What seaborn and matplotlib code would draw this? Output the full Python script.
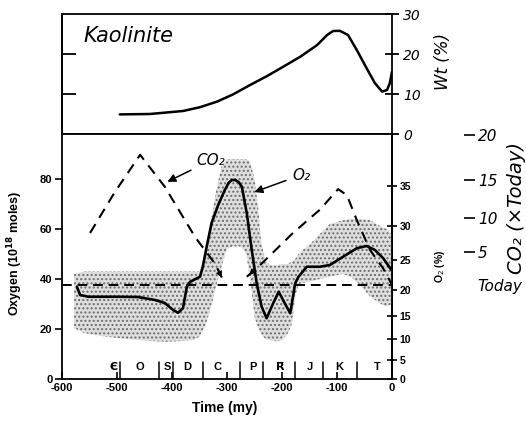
import numpy as np
import pandas as pd
import seaborn as sns
import matplotlib
matplotlib.use("Agg")
import matplotlib.pyplot as plt

# kaolinite (wt %) through time
kao_time = [-495, -440, -380, -349, -318, -289, -258, -227, -198, -167, -136, -118, -107, -95,
            -80, -64, -46, -31, -18, -9, -4, 0]
kao_wt = [4.9, 5.0, 5.75, 6.7, 8.1, 9.9, 12.25, 14.5, 16.8, 19.3, 22.25, 24.75, 25.75, 25.8,
          24.75, 21.0, 16.4, 12.7, 10.6, 11.0, 12.7, 15.6]

# atmospheric oxygen (10^18 moles)
o2_time = [-573, -567, -552, -500, -462, -431, -413, -398, -389, -380, -373, -367, -349, -344, -337,
           -328, -316, -304, -297, -291, -285, -279, -273, -264, -255, -246, -237, -228, -216, -206,
           -195, -185, -176, -170, -155, -131, -113, -89, -64, -46, -31, -16, -1]
o2_val = [36.9, 33.6, 32.9, 32.9, 32.8, 31.6, 30.4, 27.6, 26.5, 28.4, 36.9, 38.9, 40.9, 44.9, 52.9,
          62.4, 69.6, 75.6, 78.5, 79.6, 79.6, 78.8, 76.9, 66.3, 51.6, 38.3, 28.9, 24.3, 30.3, 34.9,
          30.3, 26.3, 38.3, 40.9, 44.9, 44.9, 45.6, 48.9, 52.3, 53.2, 51.6, 48.3, 43.6]

# uncertainty envelope of oxygen
band_time = [-578, -560, -520, -480, -440, -410, -380, -360, -350, -340, -330, -320, -310, -300, -290,
             -275, -265, -258, -250, -243, -238, -230, -220, -210, -200, -190, -182, -176, -170, -160,
             -149, -131, -113, -90, -76, -60, -40, -20, -10, 0]
band_low = [20.4, 18.4, 16.9, 16, 15.2, 14.9, 15.2, 15.6, 17, 21, 28, 37, 45, 52, 53,
            53, 50, 40, 25, 20, 18, 16, 15.5, 15, 15.5, 18, 22, 33, 38, 38.5,
            39, 40, 41, 42, 41, 38, 33, 30, 29, 30]
band_high = [42, 43, 43, 43, 43, 43, 43, 43, 43, 50, 62, 75, 85, 88, 88,
             88, 88, 87, 80, 68, 55, 47, 45.5, 45.5, 46, 46, 47, 48, 50, 52,
             54, 58, 62, 63.5, 64, 64, 63.6, 61, 60, 58]

# CO2 (x today), two dashed segments
co2_a_time = [-549, -504, -458, -413, -358, -322, -307]
co2_a = [7.8, 13.4, 17.8, 14.1, 7.2, 3.6, 1.6]
co2_b_time = [-264, -240, -180, -131, -98, -82, -64, -40, -16, 0]
co2_b = [2.0, 3.4, 7.8, 11.1, 13.8, 13.0, 9.7, 5.3, 3.0, 1.0]
co2_today = 1

# geologic periods
period_names = ["Є", "O", "S", "D", "C", "P", "R̄", "J", "K", "T"]
period_mid = [-506, -458, -409, -373, -318, -253, -204, -149, -95, -27]
period_bounds = [-495, -424, -398, -344, -276, -235, -176, -125, -64]

# right axis calibrations
co2_knots = [-12, 1, 5, 10, 15, 20, 30]
co2_on_ox = [-5.3, 37.6, 50.8, 64.4, 79.6, 97.6, 133.6]
K_N2 = 143.0


def ox_to_pct(x):
    x = np.asarray(x, dtype=float)
    return 100 * x / (x + K_N2)


def pct_to_ox(p):
    p = np.asarray(p, dtype=float)
    with np.errstate(divide="ignore", invalid="ignore"):
        return p * K_N2 / (100 - p)


def co2_to_ox(c):
    return np.interp(c, co2_knots, co2_on_ox)


def ox_to_co2(o):
    return np.interp(o, co2_on_ox, co2_knots)


sns.set_theme(style="ticks")
plt.rcParams["font.family"] = ["Liberation Sans", "DejaVu Sans"]
plt.rcParams["axes.linewidth"] = 1.3
plt.rcParams["hatch.linewidth"] = 1.0
for key in ["text.color", "axes.labelcolor", "xtick.color", "ytick.color", "axes.edgecolor"]:
    plt.rcParams[key] = "black"

fig = plt.figure(figsize=(5.26, 4.23), dpi=100)
ax_top = fig.add_axes([62 / 526, 1 - 134 / 423, 330 / 526, 120 / 423])
ax = fig.add_axes([62 / 526, 1 - 379 / 423, 330 / 526, 245 / 423])

hand = dict(family="DejaVu Sans", style="italic")

# ---- top panel: kaolinite
kao = pd.DataFrame({"time": kao_time, "wt": kao_wt})
sns.lineplot(data=kao, x="time", y="wt", ax=ax_top, color="black", lw=1.8)
ax_top.set_xlim(-600, 0)
ax_top.set_ylim(0, 30)
ax_top.set_xticks([])
ax_top.set_xlabel("")
ax_top.set_ylabel("")
ax_top.yaxis.tick_right()
ax_top.set_yticks([0, 10, 20, 30], labels=["0", "10", "20", "30"], fontsize=10, **hand)
ax_top.tick_params(axis="y", direction="inout", length=10, width=1.3, pad=3)
sec = ax_top.secondary_yaxis("left")
sec.set_yticks([10, 20], labels=["", ""])
sec.tick_params(direction="in", length=10, width=1.3)
ax_top.text(0.065, 0.82, "Kaolinite", transform=ax_top.transAxes, fontsize=15,
            va="center", ha="left", **hand)
ax_top.text(1.155, 0.6, "Wt (%)", transform=ax_top.transAxes, fontsize=12, rotation=90,
            va="center", ha="center", **hand)

# ---- bottom panel: oxygen
ax.fill_between(band_time, band_low, band_high, facecolor="#dedede", edgecolor="#6e6e6e",
                hatch="....", linewidth=0, zorder=1)
o2 = pd.DataFrame({"time": o2_time, "oxygen": o2_val})
sns.lineplot(data=o2, x="time", y="oxygen", ax=ax, color="black", lw=1.9, zorder=4)
ax.set_xlim(-600, 0)
ax.set_ylim(0, 98)
ax.set_xticks(range(-600, 1, 100), labels=[str(v) for v in range(-600, 1, 100)],
              fontsize=8, fontweight="bold")
ax.set_yticks(range(0, 81, 20), labels=[str(v) for v in range(0, 81, 20)],
              fontsize=8, fontweight="bold")
ax.tick_params(axis="x", direction="in", length=5, width=1.2, pad=3)
ax.tick_params(axis="y", direction="out", length=5, width=1.2, pad=2)
ax.set_xlabel("Time (my)", fontsize=10, fontweight="bold")
ax.xaxis.set_label_coords(0.494, -0.09)
ax.set_ylabel(r"Oxygen (10$^{\bf 18}$ moles)", fontsize=9, fontweight="bold")
ax.yaxis.set_label_coords(-0.112, 0.514)

for name, t in zip(period_names, period_mid):
    ax.text(t, 5, name, ha="center", va="center", fontsize=8, fontweight="bold",
            family=["DejaVu Sans"] if name in ("Є", "R̄") else ["Liberation Sans"])
for b in period_bounds:
    ax.plot([b, b], [0, 7], color="black", lw=1.1)

# O2 percent axis
ax2 = ax.secondary_yaxis("right", functions=(ox_to_pct, pct_to_ox))
ax2.set_yticks(range(0, 36, 5), labels=[str(v) for v in range(0, 36, 5)],
               fontsize=7.5, fontweight="bold")
ax2.tick_params(direction="inout", length=7, width=1.2, pad=2)
ax.text(1.145, 0.46, "O$_2$ (%)", transform=ax.transAxes, rotation=90, fontsize=7.5,
        fontweight="bold", ha="center", va="center")

# CO2 axis
ax_c = ax.twinx()
ax_c.set_yscale("function", functions=(co2_to_ox, ox_to_co2))
ax_c.set_ylim(float(ox_to_co2(0)), float(ox_to_co2(98)))
for s in ax_c.spines.values():
    s.set_visible(False)
ax_c.spines["right"].set_position(("axes", 1.218))
ax_c.set_yticks([1, 5, 10, 15, 20], labels=["Today", "5", "10", "15", "20"], fontsize=11, **hand)
ax_c.yaxis.set_minor_locator(matplotlib.ticker.NullLocator())
ax_c.tick_params(axis="y", direction="out", length=8, width=1.2, pad=2)
ax_c.yaxis.get_major_ticks()[0].tick2line.set_visible(False)
ax_c.text(1.378, 0.7, "CO₂ (×Today)", transform=ax.transAxes, rotation=90, fontsize=14,
          ha="center", va="center", **hand)

ax_c.axhline(co2_today, color="black", lw=1.4, ls=(0, (5, 3)), zorder=3)
ca = pd.DataFrame({"time": co2_a_time, "co2": co2_a})
cb = pd.DataFrame({"time": co2_b_time, "co2": co2_b})
sns.lineplot(data=ca, x="time", y="co2", ax=ax_c, color="black", lw=1.5, ls=(0, (5, 3.5)))
sns.lineplot(data=cb, x="time", y="co2", ax=ax_c, color="black", lw=1.5, ls=(0, (5, 3.5)))
ax_c.set_xlabel("")
ax_c.set_ylabel("")
ax_c.annotate("", xy=(co2_a_time[-1], co2_a[-1]), xytext=(co2_a_time[-2], co2_a[-2]),
              arrowprops=dict(arrowstyle="-|>", color="black", lw=0, mutation_scale=12))
ax_c.annotate("", xy=(co2_b_time[0], co2_b[0]), xytext=(co2_b_time[1], co2_b[1]),
              arrowprops=dict(arrowstyle="-|>", color="black", lw=0, mutation_scale=12))

# curve labels
ax.annotate("CO₂", xy=(-413, 78.4), xytext=(-355, 87.5), fontsize=11, ha="left", va="center",
            arrowprops=dict(arrowstyle="-|>", color="black", lw=1.1, mutation_scale=12), **hand)
ax.annotate("O₂", xy=(-255, 74.4), xytext=(-182, 81.6), fontsize=11, ha="left", va="center",
            arrowprops=dict(arrowstyle="-|>", color="black", lw=1.1, mutation_scale=12), **hand)

fig.savefig("out.png", dpi=100)
